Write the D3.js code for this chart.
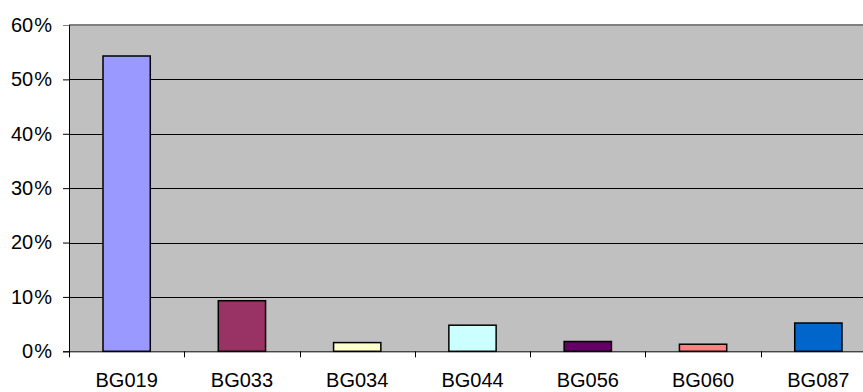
<!DOCTYPE html>
<html lang="en">
<head>
<meta charset="UTF-8">
<title>BG chart</title>
<style>
  body { margin: 0; background: #fff; }
  svg { display: block; font-family: "Liberation Sans", Arial, sans-serif; }
</style>
</head>
<body>
<script src="https://d3js.org/d3.v7.min.js"></script>
<script>
// chart data
const categories = ["BG019", "BG033", "BG034", "BG044", "BG056", "BG060", "BG087"];
const values = [0.543, 0.093, 0.016, 0.048, 0.018, 0.013, 0.052];
const colors = ["#9999FF", "#993366", "#FFFFCC", "#CCFFFF", "#660066", "#FF8080", "#0066CC"];
const yTicks = [0, 0.1, 0.2, 0.3, 0.4, 0.5, 0.6];

const w = 863, h = 392;
const padL = 69, padT = 25, padB = 351.3, padR = 876;

const svg = d3.select("body").append("svg")
    .attr("width", w)
    .attr("height", h);

const x = d3.scaleBand().domain(categories).range([padL, padR]).padding(0);
const y = d3.scaleLinear().domain([0, 0.6]).range([padB, padT]);

// plot area
svg.append("rect")
    .attr("x", padL).attr("y", padT)
    .attr("width", padR - padL).attr("height", padB - padT)
    .attr("fill", "#C0C0C0");

// gridlines
svg.append("g").selectAll("line").data(yTicks.slice(1, -1)).join("line")
    .attr("x1", padL).attr("x2", padR)
    .attr("y1", d => Math.round(y(d)) + 0.5).attr("y2", d => Math.round(y(d)) + 0.5)
    .attr("stroke", "#000").attr("stroke-width", 1);

// top border
svg.append("line")
    .attr("x1", padL).attr("x2", padR)
    .attr("y1", padT).attr("y2", padT)
    .attr("stroke", "#808080").attr("stroke-width", 2);

// bars
const barW = x.bandwidth() * 0.41;
svg.append("g").selectAll("rect").data(categories).join("rect")
    .attr("x", d => x(d) + (x.bandwidth() - barW) / 2)
    .attr("y", (d, i) => y(values[i]))
    .attr("width", barW)
    .attr("height", (d, i) => padB - y(values[i]))
    .attr("fill", (d, i) => colors[i])
    .attr("stroke", "#000").attr("stroke-width", 1.5);

// y axis
const yAxis = svg.append("g")
    .attr("transform", `translate(${padL},0)`)
    .call(d3.axisLeft(y).tickValues(yTicks).tickSize(6).tickPadding(11)
        .tickFormat(d => Math.round(d * 100)));
yAxis.select(".domain").attr("stroke", "#000");
yAxis.selectAll(".tick line").attr("stroke", "#000");
yAxis.selectAll(".tick text")
    .attr("font-size", "20px").attr("fill", "#000")
    .append("tspan").attr("dx", "1").text("%");
yAxis.selectAll(".tick").filter(d => d === 0.6).select("line").attr("stroke", "#808080");

// x axis
const xAxis = svg.append("g")
    .attr("transform", `translate(0,${padB})`)
    .call(d3.axisBottom(x).tickSize(0).tickPadding(22));
xAxis.select(".domain").attr("stroke", "#000");
xAxis.selectAll(".tick text").attr("font-size", "20px").attr("fill", "#000");

// category separator ticks
svg.append("g").selectAll("line").data(categories).join("line")
    .attr("x1", d => Math.round(x(d)) + 0.5).attr("x2", d => Math.round(x(d)) + 0.5)
    .attr("y1", padB).attr("y2", padB + 6)
    .attr("stroke", "#000");
</script>
</body>
</html>
